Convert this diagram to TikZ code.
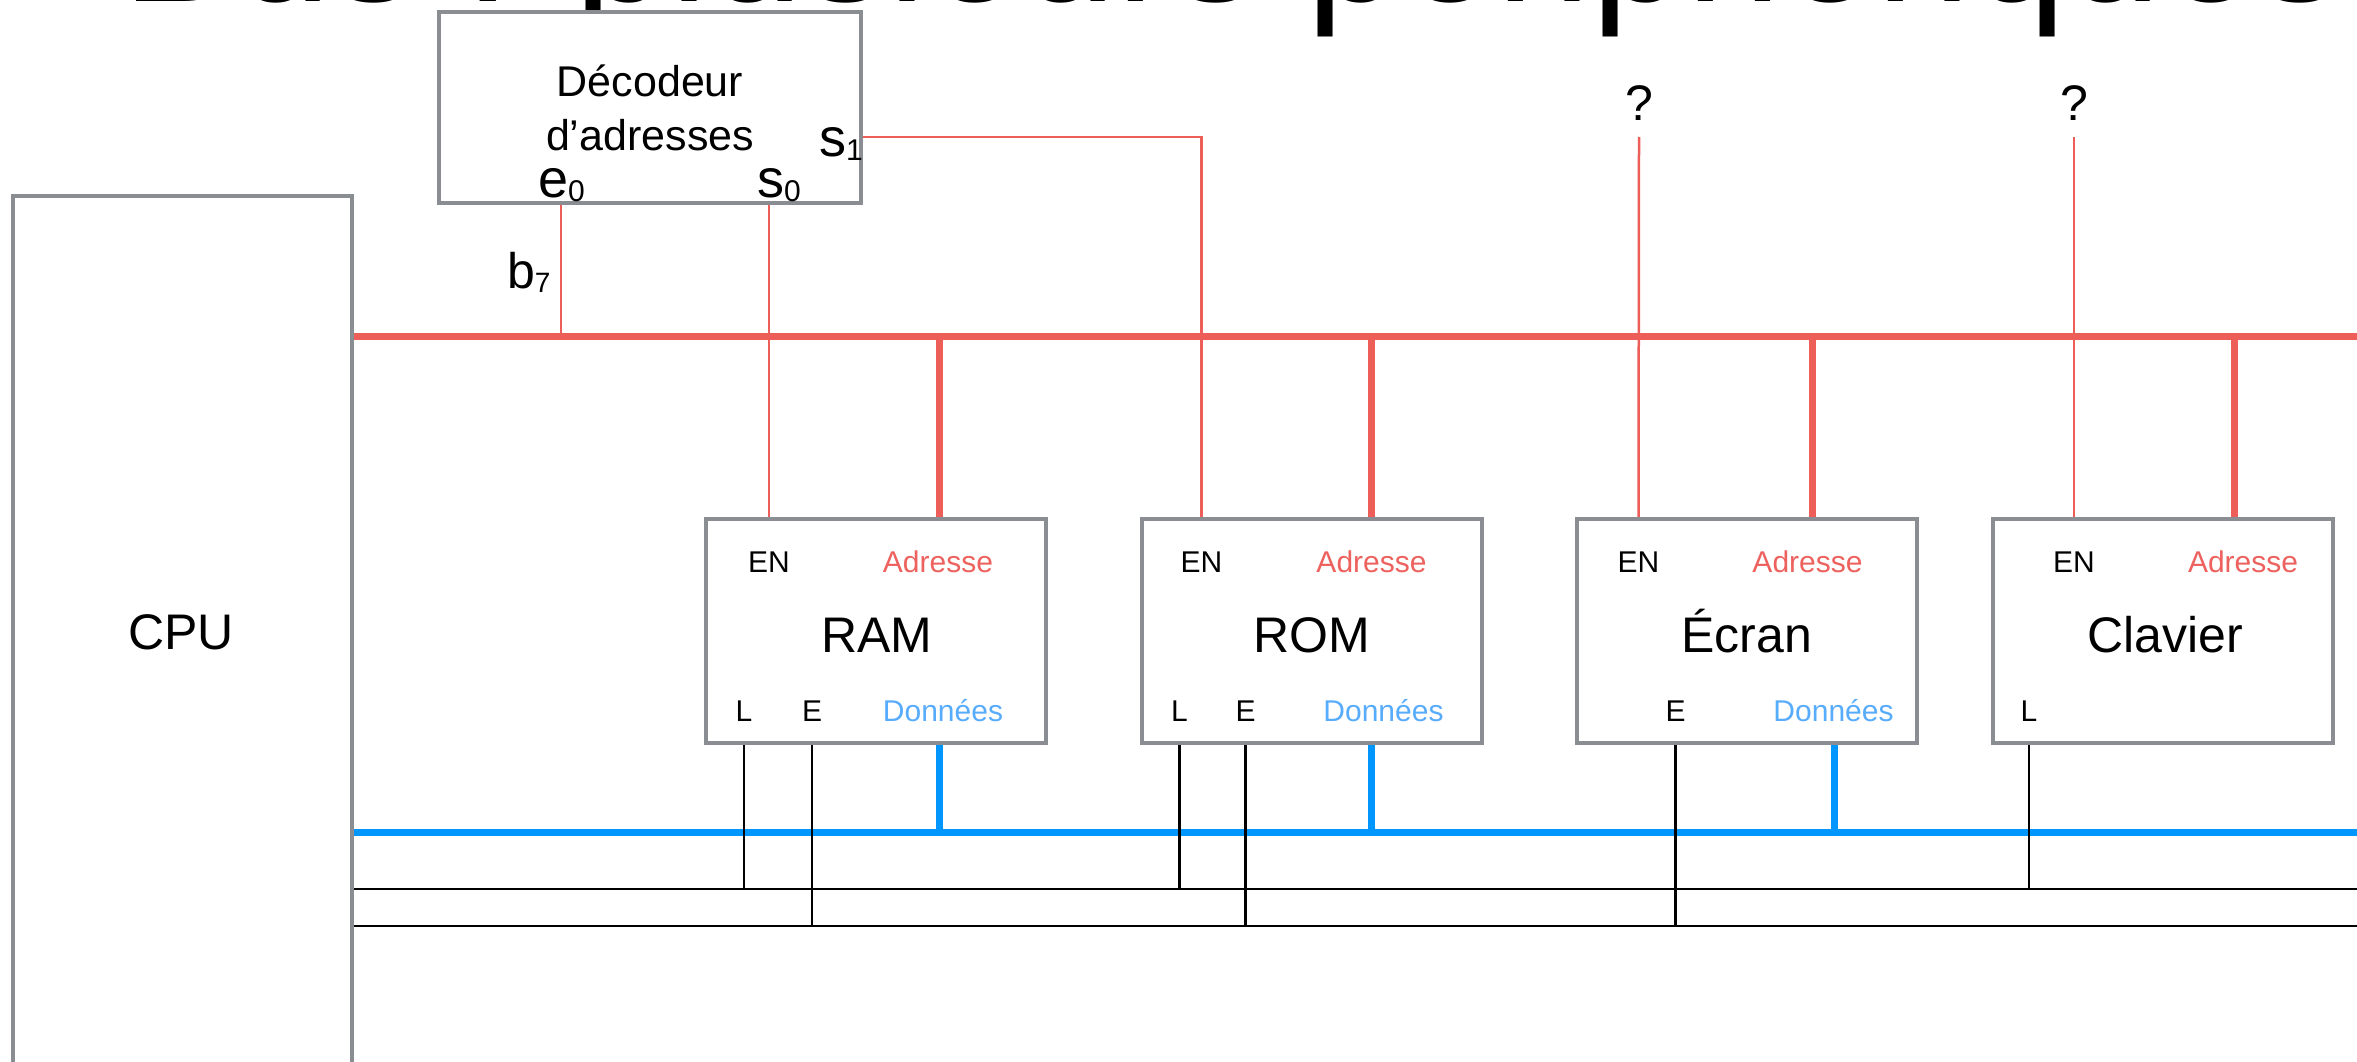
\documentclass[tikz,border=0pt]{standalone}
\usepackage{fontspec}
\setmainfont{Liberation Sans}
\definecolor{busred}{RGB}{237,94,89}
\definecolor{busblue}{RGB}{0,150,255}
\definecolor{boxgray}{RGB}{138,141,145}
\definecolor{txtred}{RGB}{237,98,94}
\definecolor{txtblue}{RGB}{88,172,252}
\newcommand{\fsz}[1]{\fontsize{#1}{#1}\selectfont}
\pgfdeclarelayer{bg}
\pgfsetlayers{bg,main}
\begin{document}
\begin{tikzpicture}[x=1pt,y=-1pt,
  every node/.style={inner sep=0pt, outer sep=0pt},
  frame/.style={draw=boxgray, line width=4pt, fill=white},
  devbox/.style={frame, minimum width=340pt, minimum height=224pt},
  thinred/.style={draw=busred, line width=2.5pt},
  thickred/.style={draw=busred, line width=7pt},
  thickblue/.style={draw=busblue, line width=7pt},
  ctrl/.style={draw=black, line width=2.5pt},
  pin/.style={anchor=base, font=\fsz{30}},
  redpin/.style={pin, text=txtred},
  bluepin/.style={pin, text=txtblue},
  devname/.style={anchor=base, font=\fsz{50}}
]
\useasboundingbox (0,0) rectangle (2357,1062);
\clip (0,0) rectangle (2357,1062);

% title (cut by the top edge)
\node[anchor=base west, font=\fsz{171}] (title) at (122,1.5) {Bus : plusieurs périphériques};

% levels of the buses
\coordinate (abus) at (352,336);
\coordinate (abusend) at (2357,336);
\coordinate (dbus) at (352,832);
\coordinate (dbusend) at (2357,832);
\coordinate (ctlL) at (352,889);
\coordinate (ctlLend) at (2357,889);
\coordinate (ctlE) at (352,926);
\coordinate (ctlEend) at (2357,926);
\coordinate (sel) at (0,137);
\coordinate (e0x) at (561,0);

% CPU
\node[frame, minimum width=339pt, minimum height=904pt] (cpu) at (182.5,648) {};
\node[font=\fsz{50}] (cpulbl) at (181,632) {CPU};

% decoder
\node[frame, minimum width=422pt, minimum height=191pt] (dec) at (650,107.5) {};
\node[anchor=base, font=\fsz{43}] (dec1) at (650,97) {Décodeur};
\node[anchor=base, font=\fsz{43}] (dec2) at (650,150) {d’adresses};
\node[anchor=base west] (e0) at (538,197) {\fsz{54}e\fsz{30}\raisebox{-4pt}{0}};
\node[anchor=base west] (s0) at (757,197) {\fsz{54}s\fsz{30}\raisebox{-4pt}{0}};
\node[anchor=base west] (s1) at (819,157) {\fsz{54}s\fsz{30}\raisebox{-4pt}{1}};
\node[anchor=base west] (b7) at (507,288) {\fsz{50}b\fsz{28}\raisebox{-4pt}{7}};

% devices
\node[devbox] (ram) at (876,631) {};
\node[devbox] (rom) at (1311.5,631) {};
\node[devbox] (ecran) at (1746.5,631) {};
\node[devbox] (clav) at (2163,631) {};

% RAM labels
\node[pin] (ramEN) at ([shift={(63,53)}]ram.north west) {EN};
\node[redpin] (ramAd) at ([shift={(232,53)}]ram.north west) {Adresse};
\node[devname] (ramN) at ([shift={(1,21)}]ram.center) {RAM};
\node[pin] (ramL) at ([shift={(38,202)}]ram.north west) {L};
\node[pin] (ramE) at ([shift={(106,202)}]ram.north west) {E};
\node[bluepin] (ramD) at ([shift={(237,202)}]ram.north west) {Données};
% ROM labels
\node[pin] (romEN) at ([shift={(60,53)}]rom.north west) {EN};
\node[redpin] (romAd) at ([shift={(230,53)}]rom.north west) {Adresse};
\node[devname] (romN) at ([shift={(0,21)}]rom.center) {ROM};
\node[pin] (romL) at ([shift={(38,202)}]rom.north west) {L};
\node[pin] (romE) at ([shift={(104,202)}]rom.north west) {E};
\node[bluepin] (romD) at ([shift={(242,202)}]rom.north west) {Données};
% Ecran labels
\node[pin] (ecrEN) at ([shift={(62,53)}]ecran.north west) {EN};
\node[redpin] (ecrAd) at ([shift={(231,53)}]ecran.north west) {Adresse};
\node[devname] (ecrN) at ([shift={(0,21)}]ecran.center) {Écran};
\node[pin] (ecrE) at ([shift={(99,202)}]ecran.north west) {E};
\node[bluepin] (ecrD) at ([shift={(257,202)}]ecran.north west) {Données};
% Clavier labels
\node[pin] (clavEN) at ([shift={(81,53)}]clav.north west) {EN};
\node[redpin] (clavAd) at ([shift={(250,53)}]clav.north west) {Adresse};
\node[devname] (clavN) at ([shift={(2,21)}]clav.center) {Clavier};
\node[pin] (clavL) at ([shift={(36,202)}]clav.north west) {L};

% question marks
\node[anchor=base, font=\fsz{50}] (q1) at (1639,121) {?};
\node[anchor=base, font=\fsz{50}] (q2) at (2074,121) {?};

% attachment points of the bus drops
\coordinate (ramA) at ([xshift=233pt]ram.north west);
\coordinate (romA) at ([xshift=230pt]rom.north west);
\coordinate (ecrA) at ([xshift=236pt]ecran.north west);
\coordinate (clavA) at ([xshift=241pt]clav.north west);
\coordinate (ramB) at ([xshift=233pt]ram.south west);
\coordinate (romB) at ([xshift=230pt]rom.south west);
\coordinate (ecrB) at ([xshift=258pt]ecran.south west);

\begin{pgfonlayer}{bg}
  % buses
  \draw[thickred] (abus) -- (abusend);
  \draw[thickblue] (dbus) -- (dbusend);
  \draw[ctrl] (ctlL) -- (ctlLend);
  \draw[ctrl] (ctlE) -- (ctlEend);
  % decoder connections
  \draw[thinred] (dec.south -| e0x) -- (abus -| e0x);
  \draw[thinred] (dec.south -| ramEN) -- (ram.north -| ramEN);
  \draw[thinred] (dec.east |- sel) -- (romEN |- sel) -- (rom.north -| romEN);
  \draw[thinred] (q1 |- sel) -- (ecran.north -| ecrEN);
  \draw[thinred] (q2 |- sel) -- (clav.north -| clavEN);
  % address drops
  \foreach \p in {ramA,romA,ecrA,clavA}
    \draw[thickred] (abus -| \p) -- (\p);
  % data drops
  \foreach \p in {ramB,romB,ecrB}
    \draw[thickblue] (\p) -- (dbus -| \p);
  % control lines
  \draw[ctrl] (ram.south -| ramL) -- (ctlL -| ramL);
  \draw[ctrl] (ram.south -| ramE) -- (ctlE -| ramE);
  \draw[ctrl] (rom.south -| romL) -- (ctlL -| romL);
  \draw[ctrl] (rom.south -| romE) -- (ctlE -| romE);
  \draw[ctrl] (ecran.south -| ecrE) -- (ctlE -| ecrE);
  \draw[ctrl] (clav.south -| clavL) -- (ctlL -| clavL);
\end{pgfonlayer}
\end{tikzpicture}
\end{document}
